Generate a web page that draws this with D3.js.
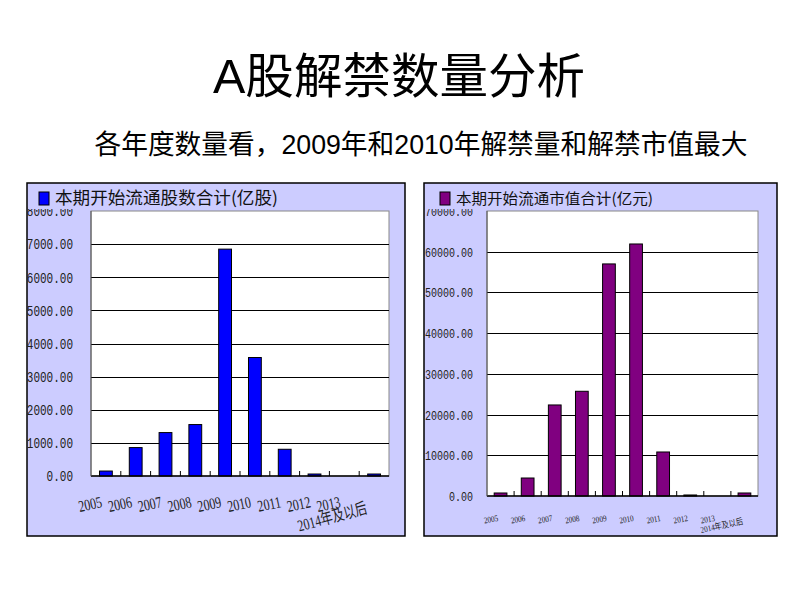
<!DOCTYPE html>
<html><head><meta charset="utf-8">
<script src="https://cdn.jsdelivr.net/npm/d3@7"></script>
<style>body{margin:0;background:#fff}</style>
</head><body>
<svg id="c" width="800" height="600"></svg>
<script>
const categories = ["2005","2006","2007","2008","2009","2010","2011","2012","2013","2014年及以后"];
const shares = [150, 858, 1311, 1553, 6849, 3577, 807, 60, 0, 60];
const marketValue = [740, 4420, 22360, 25720, 57000, 61900, 10810, 250, 0, 740];
const shareTicks = [0,1000,2000,3000,4000,5000,6000,7000,8000];
const valueTicks = [0,10000,20000,30000,40000,50000,60000,70000];
const titleText = "A股解禁数量分析";
const subtitleText = "各年度数量看，2009年和2010年解禁量和解禁市值最大";
const shareLegend = "本期开始流通股数合计(亿股)";
const valueLegend = "本期开始流通市值合计(亿元)";

const svg = d3.select("#c");
const CJK = "'Liberation Sans','Noto Sans CJK SC',sans-serif";
const SERIF = "'Liberation Serif','Noto Sans CJK SC',serif";
const MONO = "'Liberation Mono','DejaVu Sans Mono',monospace";

svg.append("text").attr("x",399).attr("y",93).attr("text-anchor","middle")
  .attr("font-family",CJK).attr("font-size",48).attr("fill","#000")
  .attr("textLength",372).attr("lengthAdjust","spacingAndGlyphs").text(titleText);
svg.append("text").attr("x",421).attr("y",154).attr("text-anchor","middle")
  .attr("font-family",CJK).attr("font-size",27).attr("fill","#000")
  .attr("textLength",653).attr("lengthAdjust","spacingAndGlyphs").text(subtitleText);

function panel(cfg){
  const g = svg.append("g");
  g.append("rect").attr("x",cfg.box[0]).attr("y",cfg.box[1]).attr("width",cfg.box[2]).attr("height",cfg.box[3])
    .attr("fill","#ccccff").attr("stroke","#000").attr("stroke-width",1.5);
  const [px0,py0,px1,py1] = cfg.plot;
  const x = d3.scaleBand().domain(categories).range([px0,px1]).paddingInner(cfg.pad).paddingOuter(cfg.pad/2);
  const y = d3.scaleLinear().domain([0,cfg.max]).range([py1,py0]);
  g.append("rect").attr("x",px0).attr("y",py0).attr("width",px1-px0).attr("height",py1-py0)
    .attr("fill","#fff").attr("stroke","#888").attr("stroke-width",1);
  g.append("g").selectAll("line").data(cfg.ticks.filter(t=>t>0&&t<cfg.max)).join("line")
    .attr("x1",px0).attr("x2",px1).attr("y1",d=>Math.round(y(d))+0.5).attr("y2",d=>Math.round(y(d))+0.5)
    .attr("stroke","#000").attr("stroke-width",1);
  // y labels
  const fmt = d3.format(".2f");
  g.append("g").selectAll("text").data(cfg.ticks).join("text")
    .attr("x",cfg.labelRight).attr("y",d=>y(d)+cfg.tickFs*0.38).attr("text-anchor","end")
    .attr("font-family",MONO).attr("font-size",cfg.tickFs).attr("fill","#222")
    .attr("textLength",d=>fmt(d).length*cfg.charW).attr("lengthAdjust","spacingAndGlyphs")
    .text(d=>fmt(d));
  const step = x.step(), bw = x.bandwidth();
  g.append("g").selectAll("rect").data(cfg.values).join("rect")
    .attr("x",(d,i)=>x(categories[i])).attr("width",bw)
    .attr("y",d=>y(d)).attr("height",d=>Math.max(0,y(0)-y(d)))
    .attr("fill",cfg.color).attr("stroke","#000").attr("stroke-width",1);
  g.append("line").attr("x1",px0).attr("x2",px1).attr("y1",y(0)).attr("y2",y(0)).attr("stroke","#000").attr("stroke-width",1.5);
  g.append("line").attr("x1",px0).attr("x2",px0).attr("y1",py0).attr("y2",py1).attr("stroke","#555").attr("stroke-width",1);
  g.append("g").selectAll("line").data(categories.slice(1)).join("line")
    .attr("x1",d=>x(d)-(step-bw)/2).attr("x2",d=>x(d)-(step-bw)/2)
    .attr("y1",y(0)).attr("y2",y(0)-5).attr("stroke","#000").attr("stroke-width",1);
  g.append("g").selectAll("text").data(categories).join("text")
    .attr("transform",(d,i)=>{
      const last = i===categories.length-1;
      const cx = x(d)+bw/2 + (last?cfg.lastDx:cfg.labDx);
      const cy = last?cfg.lastY:cfg.labY;
      return `translate(${cx},${cy}) rotate(${last?cfg.lastRot:cfg.rot}) scale(${cfg.sx},${cfg.sy})`;
    })
    .attr("text-anchor","end").attr("font-family",SERIF).attr("font-size",cfg.xFs).attr("fill","#222")
    .text(d=>d);
  // legend area hides the top of the first tick label
  g.append("rect").attr("x",cfg.box[0]+1).attr("y",cfg.box[1]+1).attr("width",px0-cfg.box[0]-3).attr("height",py0-cfg.box[1]-3)
    .attr("fill","#ccccff");
  g.append("rect").attr("x",cfg.legX).attr("y",192).attr("width",10).attr("height",13)
    .attr("fill",cfg.color).attr("stroke","#000").attr("stroke-width",1);
  g.append("text").attr("x",cfg.legX+16).attr("y",204).attr("font-family","'Noto Sans CJK SC',sans-serif")
    .attr("font-size",cfg.legFs).attr("fill","#111").attr("textLength",cfg.legW).attr("lengthAdjust","spacingAndGlyphs")
    .text(cfg.legend);
}

panel({box:[27,183,378,353], plot:[91,211,389,476], max:8000, ticks:shareTicks, values:shares,
  color:"#0000ff", pad:0.57, labelRight:73, tickFs:14, charW:6.6, legX:39, legFs:17, legW:223, legend:shareLegend,
  xFs:14, sx:0.85, sy:1.15, rot:-12, labDx:-3, labY:507, lastDx:-6, lastY:513, lastRot:-15});
panel({box:[424,183,353,353], plot:[487,211,758,496], max:70000, ticks:valueTicks, values:marketValue,
  color:"#800080", pad:0.53, labelRight:473, tickFs:13, charW:6.0, legX:440, legFs:15, legW:197, legend:valueLegend,
  xFs:8, sx:0.9, sy:1.1, rot:-10, labDx:-2, labY:521, lastDx:-1, lastY:524, lastRot:-12});
</script>
</body></html>
